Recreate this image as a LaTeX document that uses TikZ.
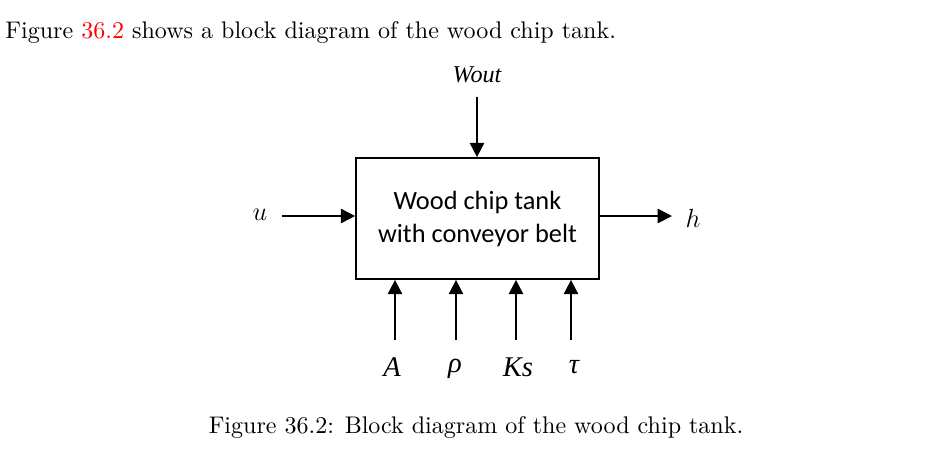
\documentclass[tikz,border=0pt]{standalone}
\usepackage{fontspec}
\usepackage{xcolor}
\newfontfamily\calfont{Carlito}
\newfontfamily\timesfont{Liberation Serif}
\usetikzlibrary{positioning,arrows.meta}
\tikzset{
	tankbox/.style={draw,thick,minimum width=3.888cm,minimum height=1.936cm,align=center,font=\calfont\fontsize{12}{15}\selectfont},
	param/.style={font=\timesfont\itshape\fontsize{13}{15}\selectfont},
	sig/.style={-{Triangle[length=6.5pt,width=6.5pt]},thick}
}
\begin{document}
\begin{tikzpicture}[x=0.016cm,y=-0.016cm]
		\useasboundingbox (0,0) rectangle (942,454);
		\node[anchor=base west,inner sep=0pt] (intro) at (5,38) {\fontsize{10.95}{13}\selectfont Figure \textcolor{red}{36.2} shows a block diagram of the wood chip tank.};
		\node[tankbox] (tank) at (477.5,218.5) {Wood chip tank\\with conveyor belt};
		\node[font=\timesfont\itshape\fontsize{11}{13}\selectfont] (wout) at (477,75) {Wout};
		\node[font=\fontsize{13}{15}\selectfont] (u) at (260,215) {$u$};
		\node[font=\fontsize{13}{15}\selectfont] (h) at (693,218) {$h$};
		\node[param] (A) at (392,367) {A};
		\node[param] (rho) at (455,369) {ρ};
		\node[param] (Ks) at (518,367) {Ks};
		\node[param] (tau) at (574,367) {τ};
		\coordinate (wtop) at (477,97);
		\coordinate (uend) at (282,216);
		\coordinate (hend) at (672,216);
		\draw[sig] (wtop)--(wtop |- tank.north);
		\draw[sig] (uend)--(uend -| tank.west);
		\draw[sig] (hend -| tank.east)--(hend);
		\foreach \x in {395,456,516,571}
			\draw[sig] (\x,340)--(\x,0 |- tank.south);
		\node[anchor=base,inner sep=0pt] (caption) at (476,433) {\fontsize{10.95}{13}\selectfont Figure 36.2: Block diagram of the wood chip tank.};
		\end{tikzpicture}
\end{document}
